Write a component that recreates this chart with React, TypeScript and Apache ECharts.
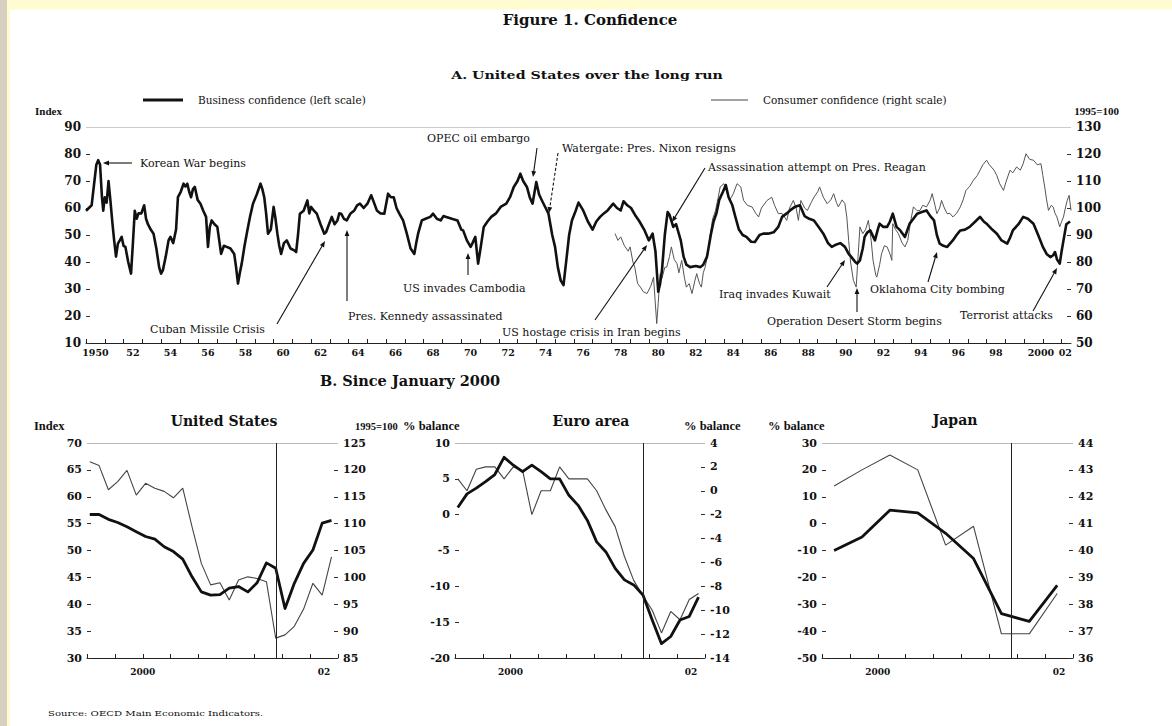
import React, { useEffect, useRef } from "react";
import * as echarts from "echarts";

// ---------------- Panel A: United States over the long run ----------------
// [year, index] business confidence (left scale)
const longBusiness: [number, number][] = [
  [1950.0, 59], [1950.15, 60], [1950.3, 61], [1950.45, 70], [1950.55, 76], [1950.65, 77.7], [1950.75, 76], [1950.85, 64], [1950.92, 59],
  [1951.0, 64], [1951.1, 62], [1951.2, 70], [1951.3, 62.8], [1951.4, 55], [1951.5, 48], [1951.6, 42], [1951.7, 46.8], [1951.8, 48], [1951.9, 49.3],
  [1952.0, 46], [1952.1, 45.6], [1952.25, 40], [1952.4, 35.7], [1952.5, 47], [1952.6, 59], [1952.7, 56], [1952.8, 58], [1952.95, 58],
  [1953.1, 61], [1953.2, 56], [1953.3, 54], [1953.45, 52], [1953.6, 50.5], [1953.75, 45], [1953.9, 38],
  [1954.0, 35.7], [1954.1, 37], [1954.25, 42], [1954.4, 48], [1954.5, 49.3], [1954.65, 47], [1954.8, 52], [1954.9, 64],
  [1955.05, 66], [1955.2, 69], [1955.3, 68], [1955.4, 69], [1955.5, 66], [1955.6, 64], [1955.7, 67], [1955.8, 67.8], [1955.95, 63],
  [1956.1, 61.6], [1956.25, 59], [1956.4, 56.7], [1956.5, 45.6], [1956.6, 53], [1956.7, 55.4], [1956.85, 54],
  [1957.0, 53], [1957.1, 48], [1957.2, 43], [1957.35, 46], [1957.5, 45.6], [1957.7, 45], [1957.9, 43],
  [1958.0, 38], [1958.1, 32], [1958.2, 36], [1958.3, 39.4], [1958.45, 46], [1958.6, 51.7], [1958.75, 57], [1958.9, 61.6],
  [1959.1, 65], [1959.3, 69], [1959.4, 67], [1959.5, 64], [1959.6, 58], [1959.7, 50.5], [1959.85, 52],
  [1960.0, 60.4], [1960.1, 56], [1960.2, 50.5], [1960.3, 46], [1960.4, 43], [1960.55, 47], [1960.7, 48], [1960.9, 45],
  [1961.1, 44.3], [1961.2, 43.7], [1961.3, 50], [1961.4, 57.9], [1961.6, 59], [1961.8, 62.8], [1961.9, 58],
  [1962.0, 60.4], [1962.15, 59], [1962.3, 57.9], [1962.5, 54], [1962.7, 50.5], [1962.8, 51.1], [1962.95, 54],
  [1963.1, 56.7], [1963.25, 54], [1963.4, 55.4], [1963.5, 58], [1963.6, 57.9], [1963.75, 56], [1963.9, 55.4],
  [1964.1, 58], [1964.3, 59.1], [1964.45, 61], [1964.6, 61.6], [1964.8, 60],
  [1965.0, 61.6], [1965.2, 64.7], [1965.35, 62], [1965.5, 59.1], [1965.7, 58], [1965.9, 57.9],
  [1966.1, 65.3], [1966.25, 64], [1966.4, 64], [1966.55, 60], [1966.7, 57.9], [1966.9, 55.4],
  [1967.1, 50.5], [1967.3, 45], [1967.5, 43], [1967.6, 47], [1967.7, 50.5], [1967.9, 55.4],
  [1968.1, 56], [1968.35, 56.7], [1968.5, 57.9], [1968.7, 56], [1968.9, 55.4],
  [1969.05, 57], [1969.2, 56.7], [1969.5, 56], [1969.8, 55.4],
  [1970.0, 52], [1970.1, 51.7], [1970.3, 48], [1970.5, 45.6], [1970.6, 47], [1970.75, 49.3], [1970.9, 39.4],
  [1971.05, 46], [1971.2, 53], [1971.4, 55], [1971.6, 56.7], [1971.85, 58],
  [1972.1, 60.4], [1972.4, 61.6], [1972.6, 64], [1972.8, 67.8],
  [1973.0, 70], [1973.15, 72.7], [1973.3, 70], [1973.5, 67.8], [1973.65, 64], [1973.8, 61.6],
  [1974.0, 69.6], [1974.15, 65], [1974.3, 62.8], [1974.5, 60], [1974.65, 57.9], [1974.85, 50],
  [1975.0, 45.6], [1975.15, 38], [1975.3, 33.2], [1975.45, 31.4], [1975.6, 40.6], [1975.75, 50], [1975.9, 55.4],
  [1976.1, 59], [1976.25, 62], [1976.5, 59.1], [1976.75, 55],
  [1977.0, 52], [1977.2, 55], [1977.4, 56.7], [1977.6, 58], [1977.8, 59.1],
  [1978.1, 61.6], [1978.3, 60], [1978.5, 59.1], [1978.65, 62.5], [1978.85, 61],
  [1979.05, 60], [1979.3, 57], [1979.5, 55], [1979.75, 52],
  [1980.0, 48], [1980.2, 50.5], [1980.35, 44], [1980.5, 29], [1980.6, 32], [1980.7, 37], [1980.85, 50],
  [1981.0, 58.5], [1981.1, 57.5], [1981.3, 53], [1981.45, 54], [1981.7, 48], [1981.85, 42],
  [1982.0, 39], [1982.2, 38.1], [1982.5, 38.5], [1982.75, 38.1], [1982.9, 39],
  [1983.1, 42], [1983.3, 50], [1983.45, 55], [1983.6, 58], [1983.75, 63], [1983.95, 66],
  [1984.1, 68.5], [1984.25, 64], [1984.45, 61], [1984.6, 57], [1984.8, 52],
  [1985.0, 50], [1985.2, 49.3], [1985.45, 47.5], [1985.65, 47.4], [1985.9, 50],
  [1986.1, 50.5], [1986.35, 50.5], [1986.65, 51], [1986.9, 53],
  [1987.1, 56.7], [1987.35, 58], [1987.6, 59.5], [1987.8, 60.5],
  [1988.05, 61], [1988.3, 57], [1988.55, 56], [1988.8, 55.4],
  [1989.05, 53], [1989.3, 50.5], [1989.55, 47], [1989.75, 45.6],
  [1990.0, 46.5], [1990.2, 47], [1990.45, 45.6], [1990.65, 43], [1990.8, 41.8],
  [1991.0, 40], [1991.1, 39.4], [1991.25, 40.6], [1991.4, 45], [1991.5, 49.3], [1991.65, 51], [1991.8, 51.7],
  [1992.05, 48], [1992.2, 52], [1992.3, 54.2], [1992.5, 53], [1992.7, 53], [1992.85, 55],
  [1993.0, 57.9], [1993.2, 53], [1993.4, 51.7], [1993.65, 49.3], [1993.9, 54.2],
  [1994.1, 56], [1994.3, 57.9], [1994.55, 58.5], [1994.8, 59.1],
  [1995.0, 57], [1995.2, 55.4], [1995.35, 50], [1995.5, 46.8], [1995.7, 46], [1995.9, 45.6],
  [1996.2, 48], [1996.4, 50], [1996.6, 51.7], [1996.85, 52],
  [1997.1, 53], [1997.4, 55], [1997.65, 56.7], [1997.85, 55],
  [1998.0, 54.2], [1998.3, 52], [1998.55, 50.5], [1998.8, 48],
  [1999.1, 46.8], [1999.25, 49], [1999.4, 51.7], [1999.7, 54], [1999.95, 56.7],
  [2000.2, 56], [2000.5, 54.2], [2000.75, 50],
  [2001.0, 45.6], [2001.2, 43], [2001.4, 41.8], [2001.55, 42.5], [2001.65, 43.7], [2001.75, 41], [2001.9, 39.4],
  [2002.0, 44], [2002.1, 48], [2002.25, 54], [2002.45, 55],
];

// [year, 1995=100] consumer confidence (right scale)
const longConsumer: [number, number][] = [
  [1978.2, 90.5], [1978.35, 88], [1978.5, 89.3], [1978.7, 86], [1978.9, 84],
  [1979.0, 85.6], [1979.15, 80], [1979.25, 78], [1979.4, 72], [1979.55, 70.7], [1979.7, 69], [1979.9, 68.3],
  [1980.1, 71], [1980.25, 74.4], [1980.33, 66], [1980.42, 57.2], [1980.5, 65], [1980.6, 75.6], [1980.7, 74], [1980.85, 78], [1980.95, 78.1],
  [1981.1, 82], [1981.2, 85.6], [1981.35, 81], [1981.5, 79.4], [1981.6, 76], [1981.75, 80.6], [1981.9, 74],
  [1982.0, 70.7], [1982.15, 72], [1982.3, 68.3], [1982.45, 73], [1982.55, 75.7], [1982.7, 72], [1982.8, 70.7], [1982.9, 76],
  [1983.0, 78.1], [1983.15, 83], [1983.25, 89.3], [1983.4, 96], [1983.55, 99], [1983.7, 104], [1983.8, 107.8],
  [1984.0, 109], [1984.15, 106], [1984.3, 102.8], [1984.5, 105.3], [1984.7, 109], [1984.9, 107.8],
  [1985.05, 102.8], [1985.25, 101], [1985.5, 100.4], [1985.7, 98], [1985.85, 96.7],
  [1986.0, 100], [1986.3, 102.8], [1986.55, 104], [1986.7, 101], [1986.9, 97.9],
  [1987.1, 98], [1987.35, 95.4], [1987.5, 100], [1987.7, 102.8], [1987.85, 100], [1987.97, 95.4],
  [1988.1, 102.8], [1988.3, 100], [1988.45, 99.1], [1988.65, 102], [1988.8, 104],
  [1989.0, 106], [1989.1, 107.8], [1989.3, 104], [1989.5, 101.6], [1989.7, 103], [1989.85, 105.3],
  [1990.0, 102], [1990.1, 100.4], [1990.3, 103], [1990.45, 101.6], [1990.55, 96.7], [1990.65, 88], [1990.75, 80], [1990.9, 73.2],
  [1991.05, 70.7], [1991.15, 82], [1991.25, 93], [1991.4, 90.5], [1991.55, 92], [1991.7, 95.4], [1991.85, 88], [1991.95, 80.6],
  [1992.1, 75], [1992.15, 74.4], [1992.3, 79], [1992.4, 83], [1992.55, 86], [1992.7, 85.6], [1992.85, 83], [1992.95, 80.6],
  [1993.0, 94.2], [1993.15, 92], [1993.3, 90.5], [1993.5, 87], [1993.65, 85.6], [1993.8, 88], [1993.95, 95],
  [1994.1, 100.4], [1994.3, 99], [1994.45, 99.1], [1994.6, 101], [1994.8, 100.4],
  [1995.0, 103], [1995.1, 105.3], [1995.25, 101], [1995.35, 97.9], [1995.5, 100], [1995.6, 102.8], [1995.75, 100], [1995.9, 97.9],
  [1996.05, 98], [1996.2, 96.7], [1996.4, 98], [1996.6, 100.4], [1996.75, 103], [1996.9, 106.5],
  [1997.1, 108], [1997.3, 110.3], [1997.5, 112], [1997.65, 114], [1997.8, 116],
  [1998.0, 117.7], [1998.15, 116], [1998.4, 114], [1998.55, 112], [1998.7, 109], [1998.9, 106.5],
  [1999.05, 110], [1999.25, 114], [1999.4, 113], [1999.6, 115.2], [1999.8, 114], [1999.95, 116.4],
  [2000.1, 120.1], [2000.3, 118], [2000.5, 117.7], [2000.7, 116], [2000.9, 116.4],
  [2001.0, 112], [2001.1, 107.8], [2001.2, 103], [2001.3, 99.1], [2001.45, 101], [2001.55, 100.4], [2001.65, 98], [2001.75, 96.7], [2001.9, 93],
  [2002.0, 95], [2002.1, 96.7], [2002.2, 100], [2002.3, 102.8], [2002.4, 104.7], [2002.5, 99.1],
];

const longTickYears = [
  1950, 1951, 1952, 1953, 1954, 1955, 1956, 1957, 1958, 1959, 1960, 1961, 1962, 1963, 1964, 1965, 1966, 1967, 1968, 1969,
  1970, 1971, 1972, 1973, 1974, 1975, 1976, 1977, 1978, 1979, 1980, 1981, 1982, 1983, 1984, 1985, 1986, 1987, 1988, 1989,
  1990, 1991, 1992, 1993, 1994, 1995, 1996, 1997, 1998, 1999, 2000, 2001, 2002,
];
const longLabelYears = [
  1950, 1952, 1954, 1956, 1958, 1960, 1962, 1964, 1966, 1968, 1970, 1972, 1974, 1976, 1978, 1980, 1982, 1984, 1986, 1988,
  1990, 1992, 1994, 1996, 1998, 2000, 2002,
];

// ---------------- Panel B: since January 2000 ----------------
// month slots: 0 = Jan 2000 ... 26 = Mar 2002
const monthSlots = [0, 1, 2, 3, 4, 5, 6, 7, 8, 9, 10, 11, 12, 13, 14, 15, 16, 17, 18, 19, 20, 21, 22, 23, 24, 25, 26];
const usBusiness = [56.7, 56.7, 55.8, 55.2, 54.4, 53.5, 52.6, 52.1, 50.7, 49.8, 48.4, 45.1, 42.3, 41.7, 41.8, 43.0, 43.3, 42.3, 44.0, 47.7, 46.7, 39.2, 43.9, 47.6, 50.1, 55.1, 55.6];
const usConsumer = [121.5, 120.8, 116.3, 117.8, 119.9, 115.3, 117.5, 116.6, 116, 114.8, 116.6, 109.4, 102.6, 98.6, 99, 95.8, 99.5, 100.1, 99.8, 99.2, 88.7, 89.3, 90.9, 94.1, 98.9, 96.7, 103.8];
const euroBusiness = [1.0, 2.9, 3.7, 4.6, 5.6, 8.0, 6.9, 6.0, 6.9, 6.0, 5.0, 5.0, 2.7, 1.3, -0.8, -3.8, -5.2, -7.5, -9.1, -9.8, -11.2, -14.7, -18, -17, -14.7, -14.2, -11.5];
const euroConsumer = [1.0, 0.0, 1.8, 2.0, 2.0, 1.0, 2.0, 1.7, -2.0, 0.0, 0.0, 2.0, 1.0, 1.0, 1.0, 0.0, -1.6, -3.0, -5.5, -7.5, -8.8, -10, -11.9, -10.1, -10.8, -9.1, -8.6];
// quarterly survey, plotted mid-quarter
const japanSlots = [1, 4, 7, 10, 13, 16, 19, 22, 25];
const japanBusiness = [-10, -5, 5, 4, -3.6, -13, -33.5, -36.4, -23];
const japanConsumer = [42.4, 43.0, 43.55, 43.0, 40.2, 40.9, 36.9, 36.9, 38.4];
const sept11Slot = 20.37;
const quarterTicks = [0, 3, 6, 9, 12, 15, 18, 21, 24, 27];

const DJ = '"DejaVu Serif", serif';
const LIB = '"Liberation Serif", serif';
const INK = "#111";

const pairs = (xs: number[], ys: number[], off: number) => xs.map((x, i) => [x + off, ys[i]]);

function txt(x: number, y: number, text: string, font: string, align = "left", sx = 1): any {
  return {
    type: "text",
    x,
    y,
    scaleX: sx,
    z: 20,
    silent: true,
    style: { text, x: 0, y: 0, font, fill: INK, textAlign: align, textVerticalAlign: "middle", align, verticalAlign: "middle" },
  };
}

function arrow(x1: number, y1: number, x2: number, y2: number, dashed = false): any[] {
  const a = Math.atan2(y2 - y1, x2 - x1);
  const L = 6;
  const W = 2.4;
  const bx = x2 - L * Math.cos(a);
  const by = y2 - L * Math.sin(a);
  const px = -Math.sin(a) * W;
  const py = Math.cos(a) * W;
  return [
    { type: "line", z: 20, silent: true, shape: { x1, y1, x2: bx, y2: by }, style: { stroke: INK, lineWidth: 1.1, lineDash: dashed ? [3, 2] : null } },
    { type: "polygon", z: 20, silent: true, shape: { points: [[x2, y2], [bx + px, by + py], [bx - px, by - py]] }, style: { fill: INK } },
  ];
}

function yAx(grid: number, min: number, max: number, interval: number, pos: string, size: number, family: string): any {
  return {
    type: "value",
    gridIndex: grid,
    min,
    max,
    interval,
    position: pos,
    axisLine: { show: false, onZero: false },
    axisTick: { show: true, inside: true, length: 4, lineStyle: { color: "#333" } },
    axisLabel: { color: INK, fontFamily: family, fontWeight: "bold", fontSize: size, margin: 5 },
    splitLine: { show: false },
  };
}

function panelX(grid: number): any {
  return {
    type: "value",
    gridIndex: grid,
    min: 0,
    max: 27,
    position: "bottom",
    axisLine: { show: true, onZero: false, lineStyle: { color: "#222", width: 1 } },
    axisTick: { show: true, inside: true, length: 4, customValues: quarterTicks, lineStyle: { color: "#222" } },
    axisLabel: {
      customValues: [6, 25.5],
      formatter: (v: number) => (v < 12 ? "2000" : "02"),
      color: INK,
      fontFamily: DJ,
      fontWeight: "bold",
      fontSize: 9,
      margin: 9,
    },
    splitLine: { show: false },
  };
}

function thick(x: number, y: number, data: any[], top: number): any {
  return {
    type: "line",
    xAxisIndex: x,
    yAxisIndex: y,
    data,
    symbol: "none",
    z: 4,
    lineStyle: { color: INK, width: 2.8, join: "round" },
    markLine: {
      silent: true,
      symbol: ["none", "none"],
      label: { show: false },
      data: [
        { yAxis: top, lineStyle: { color: "#bbb", width: 1, type: "solid" } },
        { xAxis: sept11Slot, lineStyle: { color: "#222", width: 1, type: "solid" } },
      ],
    },
  };
}

function thin(x: number, y: number, data: any[]): any {
  return {
    type: "line",
    xAxisIndex: x,
    yAxisIndex: y,
    data,
    symbol: "none",
    z: 3,
    lineStyle: { color: "#444", width: 1.1 },
  };
}

export default function App() {
  const ref = useRef<HTMLDivElement>(null);

  useEffect(() => {
    if (!ref.current) return;
    const chart = echarts.init(ref.current, undefined, { renderer: "svg" });

    const longLabelPos = longLabelYears.map((y) => (y === 2000 ? 2000.9 : y === 2002 ? 2002.2 : y + 0.5));

    const annFont = `11px ${DJ}`;
    const unitFont = `bold 12.5px ${LIB}`;
    const graphics: any[] = [
      { type: "rect", z: 0, silent: true, shape: { x: 0, y: 0, width: 1172, height: 9.5 }, style: { fill: "#fffcd2" } },
      { type: "rect", z: 0, silent: true, shape: { x: 0, y: 0, width: 7, height: 726 }, style: { fill: "#d7cfc0" } },
      { type: "rect", z: 0, silent: true, shape: { x: 7, y: 9.5, width: 3, height: 716.5 }, style: { fill: "#fffcd2" } },

      txt(590, 20, "Figure 1. Confidence", `bold 15px ${DJ}`, "center"),
      txt(587, 75, "A. United States over the long run", `bold 10.5px ${DJ}`, "center", 1.35),

      { type: "line", z: 20, silent: true, shape: { x1: 143, y1: 100, x2: 183, y2: 100 }, style: { stroke: INK, lineWidth: 3 } },
      txt(198, 100, "Business confidence (left scale)", `10.5px ${DJ}`),
      { type: "line", z: 20, silent: true, shape: { x1: 711, y1: 100, x2: 748, y2: 100 }, style: { stroke: "#444", lineWidth: 1 } },
      txt(763, 100, "Consumer confidence (right scale)", `10.5px ${DJ}`),
      txt(35, 111, "Index", `bold 11px ${LIB}`),
      txt(1119, 111, "1995=100", `bold 11px ${LIB}`, "right"),

      txt(140, 163, "Korean War begins", annFont),
      ...arrow(132, 163, 103, 163),
      txt(150, 329, "Cuban Missile Crisis", annFont),
      ...arrow(277, 324, 325, 241),
      txt(348, 316, "Pres. Kennedy assassinated", annFont),
      ...arrow(347, 301, 347, 230),
      txt(403, 288, "US invades Cambodia", annFont),
      ...arrow(468, 275, 468, 253),
      txt(427, 138, "OPEC oil embargo", annFont),
      ...arrow(537, 148, 533, 177),
      txt(562, 148, "Watergate: Pres. Nixon resigns", annFont),
      ...arrow(558, 153, 549, 213, true),
      txt(708, 167, "Assassination attempt on Pres. Reagan", annFont),
      ...arrow(705, 168, 672, 222),
      txt(502, 332, "US hostage crisis in Iran begins", annFont),
      ...arrow(595, 320, 647, 245),
      txt(719, 294, "Iraq invades Kuwait", annFont),
      ...arrow(827, 287, 845, 260),
      txt(767, 321, "Operation Desert Storm begins", annFont),
      ...arrow(857, 312, 857, 288),
      txt(870, 289, "Oklahoma City bombing", annFont),
      ...arrow(928, 282, 937, 252),
      txt(960, 315, "Terrorist attacks", annFont),
      ...arrow(1033, 311, 1057, 268),

      txt(410, 380, "B. Since January 2000", `bold 14.5px ${DJ}`, "center"),
      txt(224, 421, "United States", `bold 14px ${DJ}`, "center"),
      txt(591, 421, "Euro area", `bold 14px ${DJ}`, "center"),
      txt(955, 420, "Japan", `bold 14px ${DJ}`, "center"),
      txt(34, 426, "Index", unitFont),
      txt(355, 426, "1995=100", `bold 10.5px ${LIB}`),
      txt(403, 426, "% balance", unitFont),
      txt(684, 426, "% balance", unitFont),
      txt(768, 426, "% balance", unitFont),

      txt(48, 713, "Source: OECD Main Economic Indicators.", `7.5px ${DJ}`, "left", 1.35),
    ];

    const option: any = {
      animation: false,
      backgroundColor: "#ffffff",
      grid: [
        { left: 86, top: 127, width: 985, height: 216 },
        { left: 87, top: 443, width: 251, height: 215 },
        { left: 455, top: 443, width: 250, height: 215 },
        { left: 822, top: 443, width: 251, height: 215 },
      ],
      xAxis: [
        {
          type: "value",
          gridIndex: 0,
          min: 1950,
          max: 2002.5,
          position: "bottom",
          axisLine: { show: true, onZero: false, lineStyle: { color: "#222", width: 1 } },
          axisTick: { show: true, inside: true, length: 4, customValues: longTickYears, lineStyle: { color: "#222" } },
          axisLabel: {
            customValues: longLabelPos,
            formatter: (v: number) => {
              const y = Math.floor(v);
              return y === 1950 || y === 2000 ? String(y) : String(y % 100).padStart(2, "0");
            },
            color: INK,
            fontFamily: DJ,
            fontWeight: "bold",
            fontSize: 9.5,
            margin: 4,
          },
          splitLine: { show: false },
        },
        panelX(1),
        panelX(2),
        panelX(3),
      ],
      yAxis: [
        yAx(0, 10, 90, 10, "left", 12, DJ),
        yAx(0, 50, 130, 10, "right", 12, DJ),
        yAx(1, 30, 70, 5, "left", 11, DJ),
        yAx(1, 85, 125, 5, "right", 11, DJ),
        yAx(2, -20, 10, 5, "left", 11, DJ),
        yAx(2, -14, 4, 2, "right", 11, DJ),
        yAx(3, -50, 30, 10, "left", 11, DJ),
        yAx(3, 36, 44, 1, "right", 11, DJ),
      ],
      series: [
        {
          type: "line",
          xAxisIndex: 0,
          yAxisIndex: 1,
          data: longConsumer,
          symbol: "none",
          z: 3,
          lineStyle: { color: "#555", width: 1 },
        },
        {
          type: "line",
          xAxisIndex: 0,
          yAxisIndex: 0,
          data: longBusiness,
          symbol: "none",
          z: 4,
          lineStyle: { color: INK, width: 2.6, join: "round" },
          markLine: {
            silent: true,
            symbol: ["none", "none"],
            label: { show: false },
            data: [{ yAxis: 90, lineStyle: { color: "#ccc", width: 1, type: "solid" } }],
          },
        },
        thin(1, 3, pairs(monthSlots, usConsumer, 0.3)),
        thick(1, 2, pairs(monthSlots, usBusiness, 0.3), 70),
        thin(2, 5, pairs(monthSlots, euroConsumer, 0.3)),
        thick(2, 4, pairs(monthSlots, euroBusiness, 0.3), 10),
        thin(3, 7, pairs(japanSlots, japanConsumer, 0.3)),
        thick(3, 6, pairs(japanSlots, japanBusiness, 0.3), 30),
      ],
      graphic: { elements: graphics },
    };

    chart.setOption(option);
    return () => chart.dispose();
  }, []);

  return <div ref={ref} style={{ position: "absolute", left: 0, top: 0, width: 1172, height: 726 }} />;
}
